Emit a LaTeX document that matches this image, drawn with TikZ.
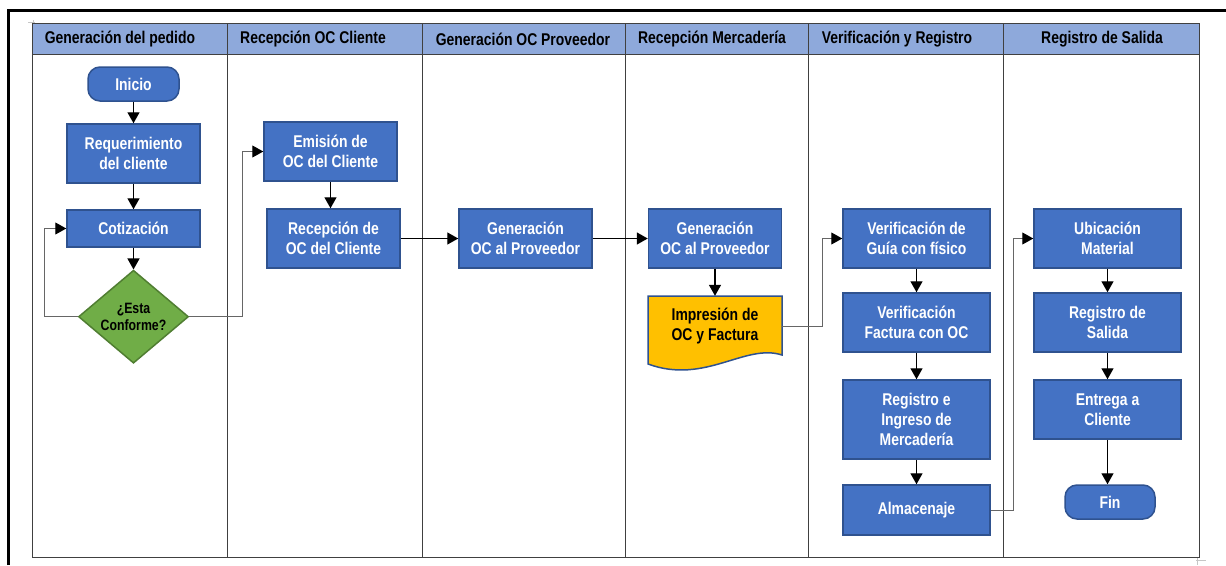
\documentclass[tikz,border=0pt]{standalone}
\usepackage{fontspec}
\setmainfont{Liberation Sans}[FakeStretch=0.82]
\usetikzlibrary{arrows.meta,shapes.geometric}

\definecolor{boxblue}{HTML}{4472C4}
\definecolor{boxedge}{HTML}{2F528F}
\definecolor{lanehead}{HTML}{8EA9DB}
\definecolor{decgreen}{HTML}{70AD47}
\definecolor{decedge}{HTML}{507E32}
\definecolor{docyellow}{HTML}{FFC000}

\tikzset{
	laneline/.style={draw=black!75,line width=0.8pt},
	headtxt/.style={font=\bfseries\fontsize{17}{20}\selectfont,inner sep=0pt},
	proc/.style={rectangle,draw=boxedge,line width=1.5pt,fill=boxblue,text=white,
		font=\bfseries\fontsize{17}{20}\selectfont,align=center,inner sep=0pt,
		minimum width=133pt,minimum height=59pt},
	wideproc/.style={proc,minimum width=147pt},
	term/.style={proc,rounded corners=12pt,minimum width=91pt,minimum height=34pt},
	decision/.style={diamond,draw=decedge,line width=1.5pt,fill=decgreen,
		font=\bfseries\fontsize{15}{17}\selectfont,align=center,inner sep=0pt,
		shape aspect=1.18,minimum width=110pt,minimum height=93pt},
	doctxt/.style={font=\bfseries\fontsize{17}{20}\selectfont,align=center,inner sep=0pt,
		minimum width=134pt,minimum height=60pt},
	flow/.style={-{Triangle[width=12pt,length=11pt]},line width=1.4pt},
	link/.style={-{Triangle[width=12pt,length=11pt,color=black]},draw=black!60,line width=1pt}
}

\begin{document}
\begin{tikzpicture}[x=1pt,y=-1pt]
	\useasboundingbox (0,0) rectangle (1226,565);

	% frame and lanes
	\draw[line width=3pt] (8.3,565) |- (1226,10);
	\draw[gray!45,line width=0.8pt] (28,22) -- (35,22) (33,20) -- (33,23);
	\draw[gray!45,line width=0.8pt] (1196,560) -- (1206,560) (1197,558) -- (1197,565);

	\fill[lanehead] (32,23) rectangle (1199,54);
	\draw[laneline] (32,23) rectangle (1199,557);
	\draw[laneline] (32,54) -- (1199,54);
	\foreach \x in {227,422,625,808,1003}
		\draw[laneline] (\x,23) -- (\x,557);

	\node[headtxt] (h1) at (120,39) {Generación del pedido};
	\node[headtxt] (h2) at (313,39) {Recepción OC Cliente};
	\node[headtxt] (h3) at (523,39) {Generación OC Proveedor};
	\node[headtxt] (h4) at (712,39) {Recepción Mercadería};
	\node[headtxt] (h5) at (897,39) {Verificación y Registro};
	\node[headtxt] (h6) at (1102,39) {Registro de Salida};

	% lane 1
	\node[term] (ini) at (133.5,84) {Inicio};
	\node[proc] (req) at (133.5,153.5) {Requerimiento\\del cliente};
	\node[proc,minimum height=37pt] (cot) at (133.5,228.5) {Cotización};
	\node[decision] (dec) at (133.5,316.7) {¿Esta\\Conforme?};

	% lane 2
	\node[proc] (emi) at (330.5,151.5) {Emisión de\\OC del Cliente};
	\node[proc] (rec) at (333.5,238.5) {Recepción de\\OC del Cliente};

	% lanes 3 and 4
	\node[proc] (gen3) at (525.5,238.5) {Generación\\OC al Proveedor};
	\node[proc] (gen4) at (715,238.5) {Generación\\OC al Proveedor};
	\draw[draw=boxedge,line width=1.5pt,fill=docyellow]
		(648,296) -- (782,296) -- (782,355) .. controls (745,343) and (705,385) .. (648,364) -- cycle;
	\node[doctxt] (imp) at (715,326) {Impresión de\\OC y Factura};

	% lane 5
	\node[wideproc] (vg) at (916.5,238.5) {Verificación de\\Guía con físico};
	\node[wideproc] (vf) at (916.5,322.5) {Verificación\\Factura con OC};
	\node[wideproc,minimum height=79pt] (reg) at (916.5,419.5) {Registro e\\Ingreso de\\Mercadería};
	\node[wideproc,minimum height=50pt] (alm) at (916.5,510) {Almacenaje};

	% lane 6
	\node[wideproc] (ubi) at (1107.5,238.5) {Ubicación\\Material};
	\node[wideproc] (rs) at (1107.5,322.5) {Registro de\\Salida};
	\node[wideproc] (ent) at (1107.5,409.5) {Entrega a\\Cliente};
	\node[term,minimum width=90pt] (fin) at (1110,502) {Fin};

	% connectors
	\draw[flow] (ini) -- (req);
	\draw[flow] (req) -- (cot);
	\draw[flow] (cot) -- (dec);
	\draw[link] (dec.west) -- ++(-33,0) |- (cot.west);
	\draw[link] (dec.east) -- ++(53,0) |- (emi.west);
	\draw[flow] (emi.south) -- (emi.south |- rec.north);
	\draw[flow] (rec) -- (gen3);
	\draw[flow] (gen3) -- (gen4);
	\draw[flow] (gen4) -- (imp);
	\draw[link] (imp.east) -- ++(40,0) |- (vg.west);
	\draw[flow] (vg) -- (vf);
	\draw[flow] (vf) -- (reg);
	\draw[flow] (reg) -- (alm);
	\draw[link] (alm.east) -- ++(23,0) |- (ubi.west);
	\draw[flow] (ubi) -- (rs);
	\draw[flow] (rs) -- (ent);
	\draw[flow] (ent.south) -- (ent.south |- fin.north);
\end{tikzpicture}
\end{document}
